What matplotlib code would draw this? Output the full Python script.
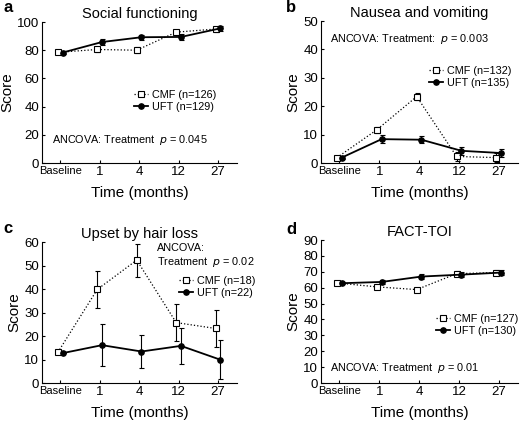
import numpy as np
import matplotlib
matplotlib.use("Agg")
import matplotlib.pyplot as plt
from matplotlib import font_manager
from matplotlib.lines import Line2D

plt.rcParams["font.family"] = ["Liberation Sans", "DejaVu Sans"]

TIMES = ["Baseline", "1", "4", "12", "27"]

# a - Social functioning
social_cmf = [78.5, 80.5, 80.0, 92.8, 95.0]
social_cmf_err = [1.2, 2.0, 2.2, 1.8, 1.8]
social_uft = [78.3, 85.8, 89.2, 89.4, 95.5]
social_uft_err = [1.2, 2.0, 1.8, 2.0, 1.8]

# b - Nausea and vomiting
nausea_cmf = [1.9, 11.7, 23.4, 2.3, 1.9]
nausea_cmf_err = [0.6, 1.0, 1.2, 1.5, 1.5]
nausea_uft = [1.9, 8.4, 8.2, 4.3, 3.5]
nausea_uft_err = [0.6, 1.4, 1.3, 1.4, 1.4]

# c - Upset by hair loss
hair_cmf = [13.0, 39.8, 52.3, 25.7, 23.2]
hair_cmf_err = [0.0, 7.8, 7.0, 7.8, 8.0]
hair_uft = [12.7, 16.1, 13.4, 15.8, 9.9]
hair_uft_err = [0.0, 8.8, 6.9, 7.6, 8.2]

# d - FACT-TOI
toi_cmf = [63.0, 60.5, 58.8, 68.8, 69.5]
toi_cmf_err = [0.8, 1.5, 1.3, 1.5, 1.5]
toi_uft = [62.8, 63.6, 67.0, 68.2, 69.5]
toi_uft_err = [0.8, 1.5, 1.5, 1.5, 1.5]

panels = [
    dict(tag="a", title="Social functioning", cmf=social_cmf, cmf_err=social_cmf_err,
         uft=social_uft, uft_err=social_uft_err, ymax=100, ystep=20,
         labels=("CMF (n=126)", "UFT (n=129)")),
    dict(tag="b", title="Nausea and vomiting", cmf=nausea_cmf, cmf_err=nausea_cmf_err,
         uft=nausea_uft, uft_err=nausea_uft_err, ymax=50, ystep=10,
         labels=("CMF (n=132)", "UFT (n=135)")),
    dict(tag="c", title="Upset by hair loss", cmf=hair_cmf, cmf_err=hair_cmf_err,
         uft=hair_uft, uft_err=hair_uft_err, ymax=60, ystep=10,
         labels=("CMF (n=18)", "UFT (n=22)")),
    dict(tag="d", title="FACT-TOI", cmf=toi_cmf, cmf_err=toi_cmf_err,
         uft=toi_uft, uft_err=toi_uft_err, ymax=90, ystep=10,
         labels=("CMF (n=127)", "UFT (n=130)")),
]

W, H = 520, 423
# axes boxes in pixels: left, right, top, bottom
boxes = {
    "a": (42, 237, 22, 163),
    "b": (321, 518, 21, 163),
    "c": (42, 237, 242, 383),
    "d": (321, 518, 240, 383),
}
# legend anchor (left of handle, vertical centre) in pixels
legend_pos = {"a": (134, 101), "b": (429, 77), "c": (179, 287), "d": (436, 325)}
# ANCOVA text (left, centre) in pixels
ancova = {
    "a": (52, 140, "ANCOVA: Treatment  $p$ = 0.045"),
    "b": (330, 39, "ANCOVA: Treatment:  $p$ = 0.003"),
    "c": (157, 256, "ANCOVA:\nTreatment  $p$ = 0.02"),
    "d": (330, 368, "ANCOVA: Treatment  $p$ = 0.01"),
}
tag_pos = {"a": (3, 8), "b": (286, 8), "c": (3, 228), "d": (286, 229)}

installed = {f.name for f in font_manager.fontManager.ttflist}
if "Liberation Sans Narrow" in installed:
    base_font = dict(family="Liberation Sans Narrow", size=9.5)
else:
    base_font = dict(family="Liberation Sans", size=8)

fig = plt.figure(figsize=(W / 100, H / 100), dpi=100)
x = np.arange(len(TIMES))
off = 0.06

cmf_style = dict(color="black", ls=":", lw=0.9, marker="s", ms=4, mfc="white",
                 mec="black", mew=0.8)
uft_style = dict(color="black", ls="-", lw=1.3, marker="o", ms=3.8, mfc="black",
                 mec="black")

for p in panels:
    l, r, t, b = boxes[p["tag"]]
    ax = fig.add_axes([l / W, 1 - b / H, (r - l) / W, (b - t) / H])
    ax.errorbar(x - off, p["cmf"], yerr=p["cmf_err"], elinewidth=0.8, capsize=1.8,
                capthick=0.8, zorder=3, **cmf_style)
    ax.errorbar(x + off, p["uft"], yerr=p["uft_err"], elinewidth=0.8, capsize=1.8,
                capthick=0.8, zorder=4, **uft_style)
    ax.set_xlim(-0.46, 4.48)
    ax.set_ylim(0, p["ymax"])
    ax.set_yticks(np.arange(0, p["ymax"] + 1, p["ystep"]))
    ax.set_xticks(x)
    ax.set_xticklabels(TIMES)
    ax.spines["top"].set_visible(False)
    ax.spines["right"].set_visible(False)
    ax.tick_params(direction="in", length=2.5, width=0.8, labelsize=9.5, pad=2)
    ax.get_xticklabels()[0].set_fontfamily(base_font["family"])
    ax.get_xticklabels()[0].set_fontsize(base_font["size"])
    ax.set_ylabel("Score", fontsize=11, labelpad=2)
    ax.set_xlabel("Time (months)", fontsize=11, labelpad=6)
    ax.set_title(p["title"], fontsize=10.5, pad=3)

    handles = [Line2D([], [], **cmf_style), Line2D([], [], **uft_style)]
    lx, ly = legend_pos[p["tag"]]
    ax.legend(handles, list(p["labels"]), loc="center left",
              bbox_to_anchor=(lx / W, 1 - ly / H), bbox_transform=fig.transFigure,
              frameon=False, fontsize=7.8, handlelength=1.3, handletextpad=0.4,
              labelspacing=0.15, borderpad=0, borderaxespad=0)

    tx, ty, txt = ancova[p["tag"]]
    fig.text(tx / W, 1 - ty / H, txt, fontsize=7.8, ha="left", va="center",
             linespacing=1.15)

    gx, gy = tag_pos[p["tag"]]
    fig.text(gx / W, 1 - gy / H, p["tag"], fontsize=12, fontweight="bold",
             ha="left", va="center")

fig.savefig("out.png", dpi=100)
